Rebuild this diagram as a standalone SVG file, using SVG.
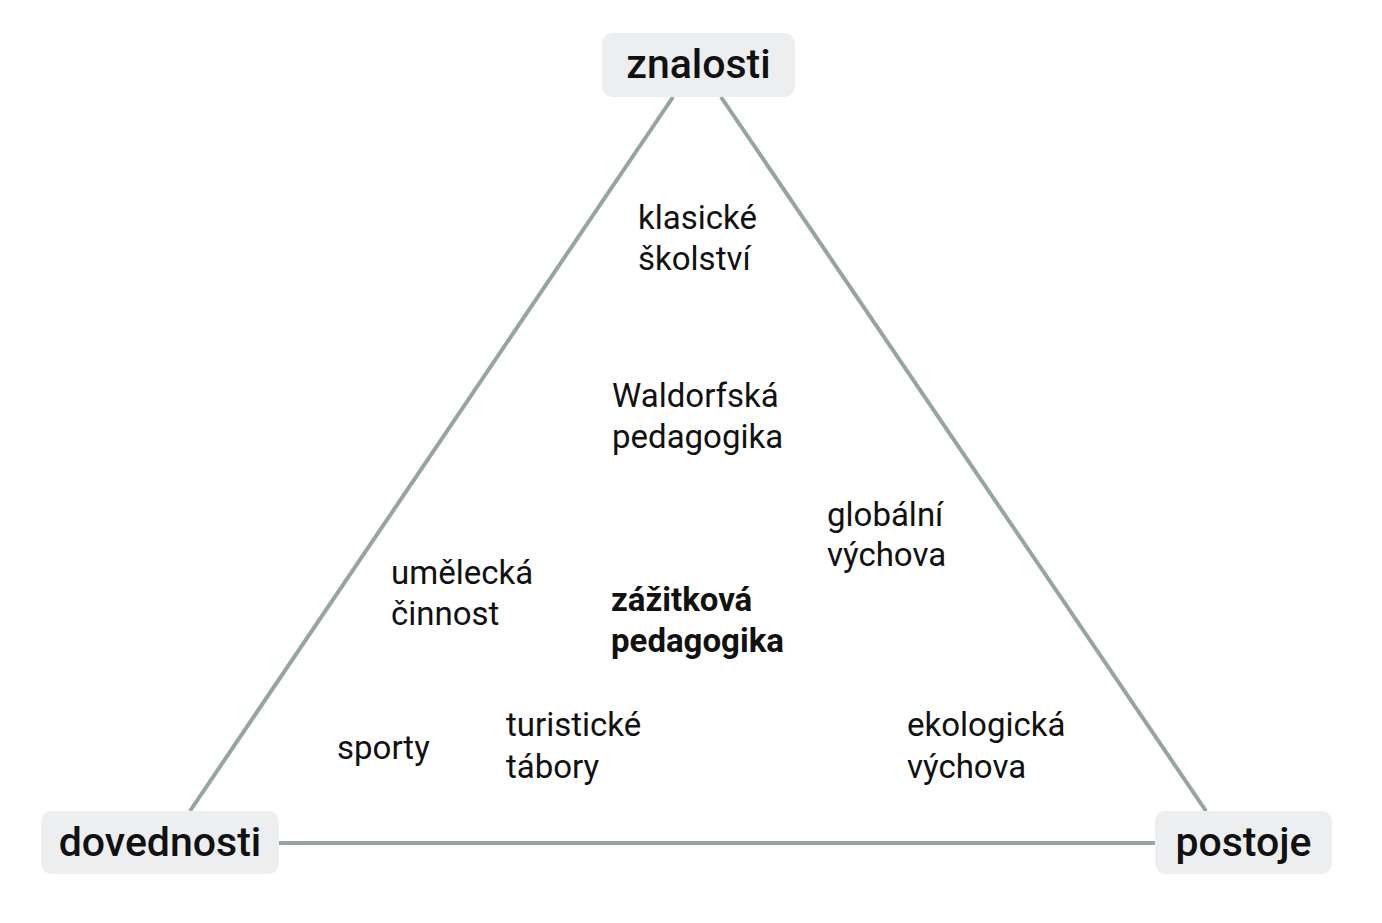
<svg xmlns="http://www.w3.org/2000/svg" width="1382" height="923" viewBox="0 0 1382 923">
<style>
.bg{fill:#ffffff}
.edge{stroke:#96a4a2;stroke-width:4;fill:none;stroke-linecap:butt}
.box{fill:#eceeef}
.nl{font-family:Roboto,"Liberation Sans",sans-serif;font-size:41px;font-weight:500;fill:#111111;text-anchor:middle}
.t{font-family:Roboto,"Liberation Sans",sans-serif;font-size:33px;font-weight:400;fill:#111111}
.b{font-weight:700}
</style>
<rect class="bg" width="1382" height="923"/>
<g id="connectors">
<line class="edge" x1="673" y1="97" x2="190" y2="811"/>
<line class="edge" x1="721" y1="97" x2="1206" y2="811"/>
<line class="edge" x1="279" y1="843" x2="1155" y2="843"/>
</g>
<g id="znalosti">
<rect class="box" x="602" y="33" width="193" height="64" rx="11"/>
<text class="nl" x="698.5" y="78">znalosti</text>
</g>
<g id="dovednosti">
<rect class="box" x="41" y="811" width="238" height="63" rx="11"/>
<text class="nl" x="160" y="856">dovednosti</text>
</g>
<g id="postoje">
<rect class="box" x="1155" y="811" width="177" height="63" rx="11"/>
<text class="nl" x="1243.5" y="856">postoje</text>
</g>
<g id="labels">
<text class="t" x="638" y="229">klasické<tspan x="638" y="270">školství</tspan></text>
<text class="t" x="612" y="407">Waldorfská<tspan x="612" y="448">pedagogika</tspan></text>
<text class="t" x="827" y="526">globální<tspan x="827" y="566">výchova</tspan></text>
<text class="t" x="391" y="584">umělecká<tspan x="391" y="625">činnost</tspan></text>
<text class="t b" x="611" y="611">zážitková<tspan x="611" y="652">pedagogika</tspan></text>
<text class="t" x="337" y="759">sporty</text>
<text class="t" x="506" y="736">turistické<tspan x="506" y="778">tábory</tspan></text>
<text class="t" x="907" y="736">ekologická<tspan x="907" y="778">výchova</tspan></text>
</g>
</svg>
